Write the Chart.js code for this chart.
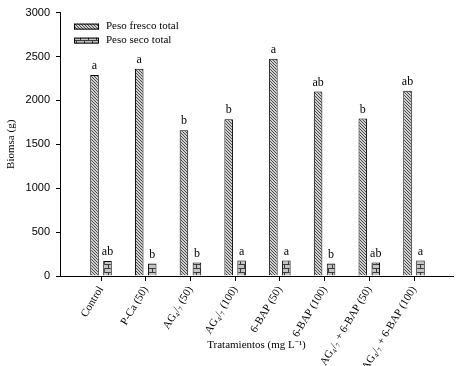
<!DOCTYPE html>
<html>
<head>
<meta charset="utf-8">
<script src="https://cdn.jsdelivr.net/npm/chart.js@4"></script>
<style>
body { margin: 0; background: #fff; }
</style>
</head>
<body>
<canvas id="biomasaChart" width="460" height="366"></canvas>
<script>
const tratamientos = ['Control', 'P-Ca (50)', 'AG₄/₇ (50)', 'AG₄/₇ (100)', '6-BAP (50)', '6-BAP (100)', 'AG₄/₇ + 6-BAP (50)', 'AG₄/₇ + 6-BAP (100)'];
const pesoFresco = [2290, 2360, 1660, 1785, 2475, 2100, 1795, 2110];
const pesoSeco = [170, 143, 155, 177, 177, 143, 155, 177];
const letrasFresco = ['a', 'a', 'b', 'b', 'a', 'ab', 'b', 'ab'];
const letrasSeco = ['ab', 'b', 'b', 'a', 'a', 'b', 'ab', 'a'];
const yTicks = [0, 500, 1000, 1500, 2000, 2500, 3000];

const serif = '"Liberation Serif", "Times New Roman", serif';
const sans = '"Liberation Sans", Arial, sans-serif';

// hatch patterns for the bars
function patronRayado() {
    const c = document.createElement('canvas');
    c.width = 3; c.height = 3;
    const g = c.getContext('2d');
    g.fillStyle = '#d0d0d0';
    g.fillRect(0, 0, 3, 3);
    g.fillStyle = '#4a4a4a';
    for (let i = 0; i < 3; i++) g.fillRect(i, i, 1, 1);
    return g.createPattern(c, 'repeat');
}

function patronLadrillo() {
    const c = document.createElement('canvas');
    c.width = 8; c.height = 8;
    const g = c.getContext('2d');
    g.fillStyle = '#c4c4c4';
    g.fillRect(0, 0, 8, 8);
    g.fillStyle = '#3a3a3a';
    g.fillRect(0, 0, 8, 1);
    g.fillRect(0, 4, 8, 1);
    g.fillRect(4, 0, 1, 4);
    g.fillRect(0, 4, 1, 4);
    return g.createPattern(c, 'repeat');
}

const letrasPlugin = {
    id: 'letras',
    afterDatasetsDraw(chart) {
        const ctx = chart.ctx;
        ctx.save();
        ctx.font = '12px ' + serif;
        ctx.fillStyle = '#000';
        ctx.textAlign = 'center';
        ctx.textBaseline = 'bottom';
        [letrasFresco, letrasSeco].forEach((letras, d) => {
            chart.getDatasetMeta(d).data.forEach((bar, i) => {
                ctx.fillText(letras[i], bar.x, bar.y - 3);
            });
        });
        ctx.restore();
    }
};

const leyendaPlugin = {
    id: 'leyenda',
    afterDraw(chart) {
        const ctx = chart.ctx;
        const x = chart.chartArea.left + 14;
        let y = chart.chartArea.top + 14;
        ctx.save();
        chart.data.datasets.forEach(ds => {
            ctx.fillStyle = ds.backgroundColor;
            ctx.fillRect(x, y - 3, 25, 6);
            ctx.strokeStyle = '#000';
            ctx.lineWidth = 1;
            ctx.strokeRect(x + 0.5, y - 2.5, 24, 5);
            ctx.fillStyle = '#000';
            ctx.font = '11px ' + serif;
            ctx.textBaseline = 'middle';
            ctx.textAlign = 'left';
            ctx.fillText(ds.label, x + 32, y);
            y += 14;
        });
        ctx.restore();
    }
};

Chart.defaults.color = '#000';

const ctx = document.getElementById('biomasaChart').getContext('2d');

const biomasaChart = new Chart(ctx, {
    type: 'bar',
    data: {
        datasets: [{
            label: 'Peso fresco total',
            data: pesoFresco.map((v, i) => ({ x: i, y: v })),
            backgroundColor: patronRayado(),
            borderColor: '#000',
            borderWidth: 1,
        }, {
            label: 'Peso seco total',
            data: pesoSeco.map((v, i) => ({ x: i, y: v })),
            backgroundColor: patronLadrillo(),
            borderColor: '#000',
            borderWidth: 1,
        }],
    },
    options: {
        responsive: false,
        animation: false,
        categoryPercentage: 0.58,
        barPercentage: 0.66,
        layout: { padding: { top: 11, right: 7, left: 0, bottom: 0 } },
        plugins: {
            legend: { display: false },
            tooltip: { enabled: false },
        },
        scales: {
            x: {
                type: 'linear',
                min: -0.917,
                max: 7.872,
                offset: false,
                afterBuildTicks: (axis) => {
                    axis.ticks = tratamientos.map((t, i) => ({ value: i }));
                },
                afterFit: (axis) => { axis.height = 90; },
                grid: { display: true, drawOnChartArea: false, offset: false, tickLength: 5, color: '#000' },
                border: { display: true, color: '#000', width: 1 },
                ticks: {
                    autoSkip: false,
                    minRotation: 59,
                    maxRotation: 59,
                    padding: 3,
                    font: { family: serif, size: 11 },
                    callback: (v, i) => tratamientos[i],
                },
                title: {
                    display: true,
                    text: 'Tratamientos (mg L⁻¹)',
                    font: { family: serif, size: 11 },
                    padding: { top: 4, bottom: 14 },
                },
            },
            y: {
                min: 0,
                max: 3000,
                afterBuildTicks: (axis) => {
                    axis.ticks = yTicks.map(v => ({ value: v }));
                },
                afterFit: (axis) => { axis.width = 60; },
                grid: { display: true, drawOnChartArea: false, tickLength: 4, color: '#000' },
                border: { display: true, color: '#000', width: 1 },
                ticks: {
                    padding: 6,
                    font: { family: sans, size: 11 },
                    callback: (v) => String(v),
                },
                title: {
                    display: true,
                    text: 'Biomsa (g)',
                    font: { family: serif, size: 11 },
                    padding: { top: 5, bottom: 4 },
                },
            },
        },
    },
    plugins: [letrasPlugin, leyendaPlugin],
});
</script>
</body>
</html>
